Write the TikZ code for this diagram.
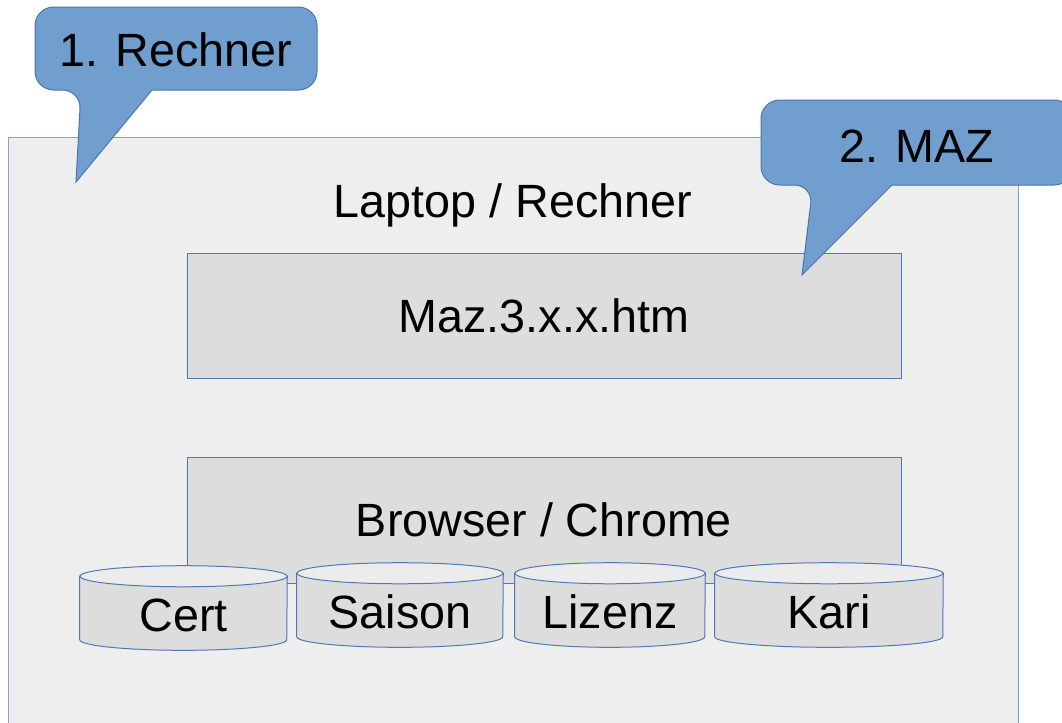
\documentclass[tikz,border=0pt]{standalone}
\usepackage{fontspec}
\setmainfont{Liberation Sans}

\definecolor{lineblue}{RGB}{80,120,185}
\definecolor{callblue}{RGB}{112,158,207}
\definecolor{calledge}{RGB}{74,116,176}
\definecolor{pcgray}{RGB}{238,238,238}
\definecolor{boxgray}{RGB}{221,221,221}
\definecolor{capgray}{RGB}{236,236,236}

\tikzset{
  big/.style={font=\fontsize{35}{42}\selectfont},
  pcbox/.style={draw=lineblue!70,fill=pcgray,line width=0.75pt},
  layer/.style={draw=lineblue,fill=boxgray,line width=0.75pt,big,
    minimum width=535.5pt,inner sep=0pt},
  drumbox/.style={inner sep=0pt,minimum height=47.25pt},
  drumline/.style={draw=lineblue,line width=0.75pt},
  callout/.style={fill=callblue,draw=calledge,line width=0.75pt}
}

% Speicher-Zylinder: Name, Position, Breite, Text
\newcommand{\drum}[4]{%
  \node[drumbox,minimum width=#3] (#1) at (#2) {};
  \draw[drumline,fill=boxgray] (#1.north west) -- (#1.south west)
    arc[start angle=180,end angle=360,x radius=#3/2,y radius=7.9pt]
    -- (#1.north east) -- cycle;
  \draw[drumline,fill=capgray] (#1.north) ellipse[x radius=#3/2,y radius=7.9pt];
  \node[big] (#1-text) at ([yshift=-5.25pt]#1.center) {#4};
}

\begin{document}
\begin{tikzpicture}[x=0.75pt,y=-0.75pt]
  \clip (0,0) rectangle (1062,722);
  \fill[white] (0,0) rectangle (1062,722);
  % Rechner
  \node[pcbox,minimum width=757.5pt,minimum height=467.25pt] (pc) at (513,448.5) {};
  \node[big] (pclabel) at (513,205) {Laptop / Rechner};
  % MAZ und Browser
  \node[layer,minimum height=93.75pt] (maz) at (544,315.5) {Maz.3.x.x.htm};
  \node[layer,minimum height=94.5pt] (browser) at (544,520) {Browser / Chrome};
  % Speicher
  \drum{cert}{183.5,608}{155.25pt}{Cert}
  \drum{saison}{400,605}{154.5pt}{Saison}
  \drum{lizenz}{610,605}{142.5pt}{Lizenz}
  \drum{kari}{829,605}{171pt}{Kari}
  % Hinweise
  \draw[callout] (81,90) -- (76,182) -- (152,90)
    [rounded corners=14pt] -- (317,90) -- (317,7) -- (35,7) -- (35,90) -- cycle;
  \node[big] (hint1) at (176,50) {1. Rechner};
  \draw[callout] (813,185) -- (802,275) -- (892,185)
    [rounded corners=14pt] -- (1073,185) -- (1073,100) -- (761,100) -- (761,185) -- cycle;
  \node[big] (hint2) at (917,146) {2. MAZ};
\end{tikzpicture}
\end{document}
